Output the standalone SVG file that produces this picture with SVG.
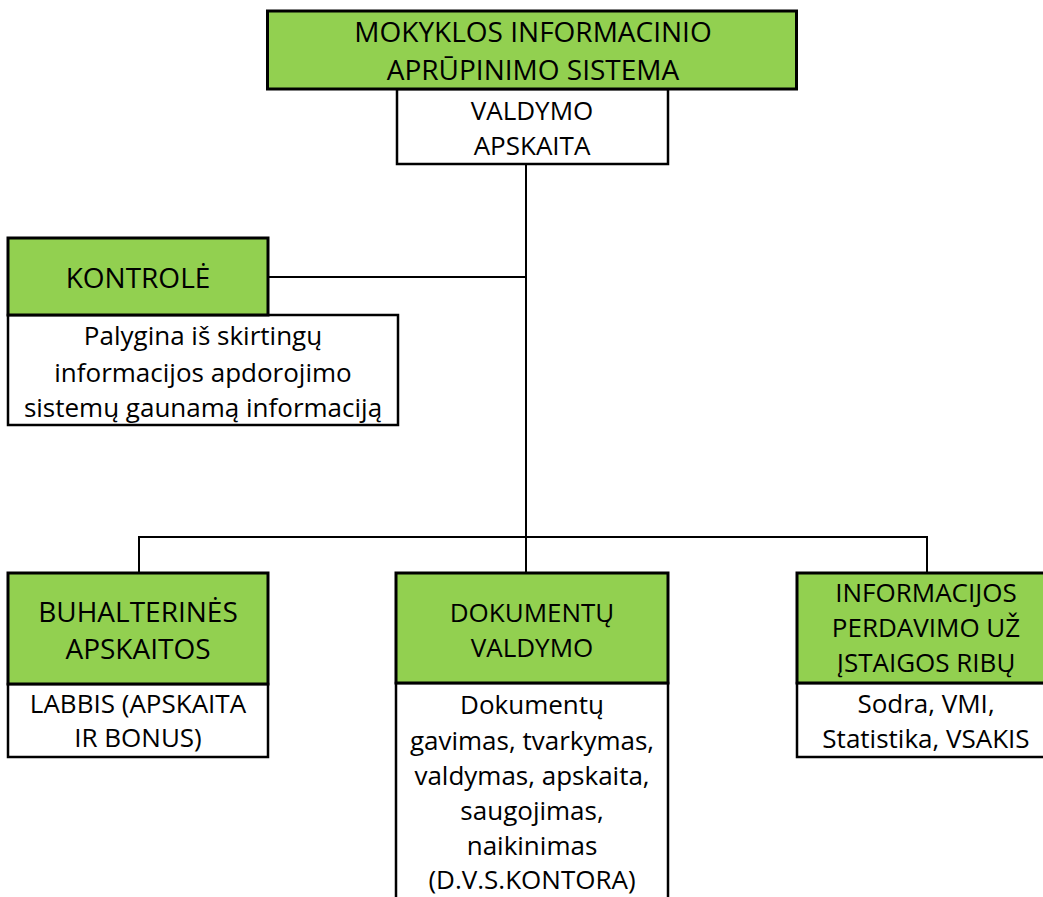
<svg xmlns="http://www.w3.org/2000/svg" width="1043" height="897" viewBox="0 0 1043 897">
<style>
.g{fill:#92D050;stroke:#000;stroke-width:3}
.w{fill:#fff;stroke:#000;stroke-width:2.5}
.c{fill:none;stroke:#000;stroke-width:2}
text{font-family:"Open Sans","Liberation Sans",sans-serif;font-size:26px;fill:#000;text-anchor:middle}
text.big{font-size:28px}
</style>
<rect width="1043" height="897" fill="#fff"/>
<g id="connectors">
<line class="c" x1="526" y1="164" x2="526" y2="573"/>
<line class="c" x1="268" y1="277" x2="526" y2="277"/>
<polyline class="c" points="139,573 139,537 927,537 927,573"/>
</g>
<g id="sistema">
<rect class="w" x="397" y="89" width="271" height="75"/>
<rect class="g" x="267.5" y="11" width="529" height="78"/>
<text class="big" x="533" y="42">MOKYKLOS INFORMACINIO</text>
<text class="big" x="533" y="80">APRŪPINIMO SISTEMA</text>
<text x="532" y="120">VALDYMO</text>
<text x="532" y="155">APSKAITA</text>
</g>
<g id="kontrole">
<rect class="w" x="8" y="315" width="390" height="110"/>
<rect class="g" x="8" y="238" width="260" height="77"/>
<text class="big" x="138" y="288">KONTROLĖ</text>
<text x="203" y="345">Palygina iš skirtingų</text>
<text x="203" y="382">informacijos apdorojimo</text>
<text x="203" y="417">sistemų gaunamą informaciją</text>
</g>
<g id="buhalterines">
<rect class="w" x="8" y="684" width="260" height="73"/>
<rect class="g" x="8" y="573" width="260" height="111"/>
<text class="big" x="138" y="622">BUHALTERINĖS</text>
<text class="big" x="138" y="659">APSKAITOS</text>
<text x="138" y="713">LABBIS (APSKAITA</text>
<text x="138" y="747">IR BONUS)</text>
</g>
<g id="dokumentu">
<rect class="w" x="396" y="683" width="272" height="220"/>
<rect class="g" x="396" y="573" width="272" height="110"/>
<text x="532" y="622">DOKUMENTŲ</text>
<text x="532" y="657">VALDYMO</text>
<text x="532" y="714">Dokumentų</text>
<text x="532" y="749.5">gavimas, tvarkymas,</text>
<text x="532" y="785">valdymas, apskaita,</text>
<text x="532" y="820">saugojimas,</text>
<text x="532" y="855">naikinimas</text>
<text x="532" y="889">(D.V.S.KONTORA)</text>
</g>
<g id="informacijos">
<rect class="w" x="797" y="683" width="260" height="74"/>
<rect class="g" x="797" y="573" width="260" height="110"/>
<text x="926" y="602">INFORMACIJOS</text>
<text x="926" y="637">PERDAVIMO UŽ</text>
<text x="926" y="672">ĮSTAIGOS RIBŲ</text>
<text x="926" y="713">Sodra, VMI,</text>
<text x="926" y="748">Statistika, VSAKIS</text>
</g>
</svg>
